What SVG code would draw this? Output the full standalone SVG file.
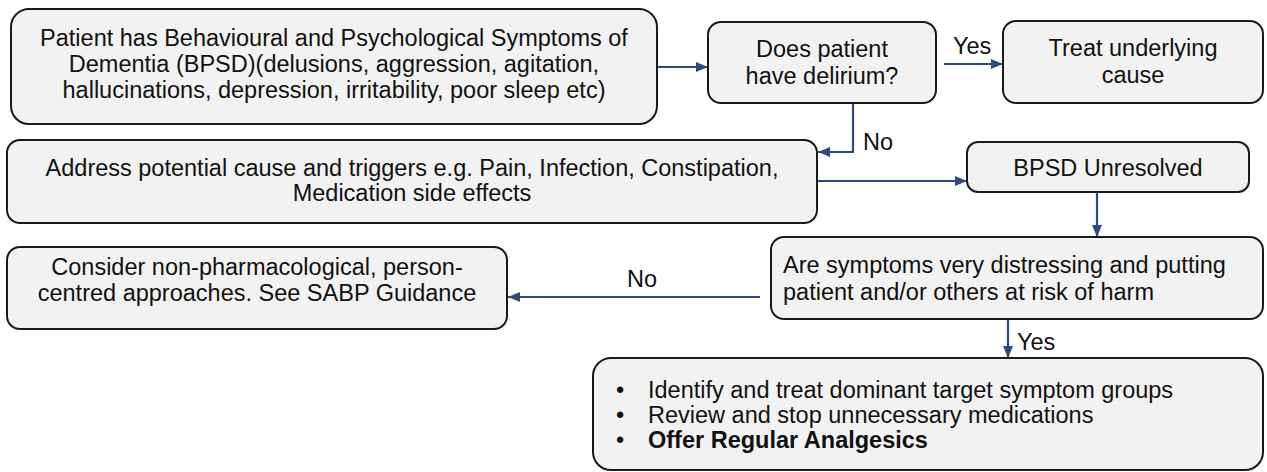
<svg xmlns="http://www.w3.org/2000/svg" width="1267" height="472" viewBox="0 0 1267 472">
<style>
.box{fill:#f2f2f2;stroke:#1a1a1a;stroke-width:2}
text{font-family:"Liberation Sans",Arial,Helvetica,sans-serif;font-size:23.5px;fill:#111}
.c{text-anchor:middle}
.con{fill:none;stroke:#2e4a7d;stroke-width:2.2}
.b{font-weight:bold}
</style>
<defs>
<marker id="ah" viewBox="0 0 12 10" refX="12" refY="5" markerWidth="12" markerHeight="10" markerUnits="userSpaceOnUse" orient="auto">
<path d="M0,0 L12,5 L0,10 z" fill="#2e4a7d"/>
</marker>
</defs>
<rect width="1267" height="472" fill="#fff"/>
<g id="connectors">
<line class="con" x1="658" y1="67" x2="708" y2="67" marker-end="url(#ah)"/>
<line class="con" x1="944" y1="64" x2="1003" y2="64" marker-end="url(#ah)"/>
<path class="con" d="M853,103 V152 H818" marker-end="url(#ah)"/>
<line class="con" x1="818" y1="181" x2="967" y2="181" marker-end="url(#ah)"/>
<line class="con" x1="1097" y1="192" x2="1097" y2="237" marker-end="url(#ah)"/>
<line class="con" x1="760" y1="297" x2="508" y2="297" marker-end="url(#ah)"/>
<line class="con" x1="1008" y1="319" x2="1008" y2="358" marker-end="url(#ah)"/>
<text x="953" y="54">Yes</text>
<text x="863" y="150">No</text>
<text x="627" y="287">No</text>
<text x="1017" y="350">Yes</text>
</g>
<g id="bpsd">
<rect class="box" x="11" y="9" width="646" height="115" rx="18"/>
<text class="c" x="334" y="46">Patient has Behavioural and Psychological Symptoms of</text>
<text class="c" x="334" y="72">Dementia (BPSD)(delusions, aggression, agitation,</text>
<text class="c" x="334" y="98">hallucinations, depression, irritability, poor sleep etc)</text>
</g>
<g id="delirium">
<rect class="box" x="708" y="22" width="228" height="81" rx="13"/>
<text class="c" x="822" y="57">Does patient</text>
<text class="c" x="822" y="84">have delirium?</text>
</g>
<g id="treat">
<rect class="box" x="1003" y="21" width="260" height="82" rx="13"/>
<text class="c" x="1133" y="56">Treat underlying</text>
<text class="c" x="1133" y="83">cause</text>
</g>
<g id="address">
<rect class="box" x="7" y="140" width="810" height="83" rx="13"/>
<text class="c" x="412" y="176">Address potential cause and triggers e.g. Pain, Infection, Constipation,</text>
<text class="c" x="412" y="201">Medication side effects</text>
</g>
<g id="unresolved">
<rect class="box" x="967" y="142" width="282" height="50" rx="11"/>
<text class="c" x="1108" y="176">BPSD Unresolved</text>
</g>
<g id="distressing">
<rect class="box" x="771" y="237" width="492" height="82" rx="13"/>
<text x="783" y="273">Are symptoms very distressing and putting</text>
<text x="783" y="300">patient and/or others at risk of harm</text>
</g>
<g id="nonpharm">
<rect class="box" x="7" y="247" width="500" height="82" rx="13"/>
<text class="c" x="257" y="275">Consider non-pharmacological, person-</text>
<text class="c" x="257" y="301">centred approaches. See SABP Guidance</text>
</g>
<g id="actions">
<rect class="box" x="593" y="358" width="670" height="112" rx="18"/>
<text class="c" x="620" y="398">•</text>
<text x="648" y="398">Identify and treat dominant target symptom groups</text>
<text class="c" x="620" y="423">•</text>
<text x="648" y="423">Review and stop unnecessary medications</text>
<text class="c" x="620" y="448">•</text>
<text class="b" x="648" y="448">Offer Regular Analgesics</text>
</g>
</svg>
